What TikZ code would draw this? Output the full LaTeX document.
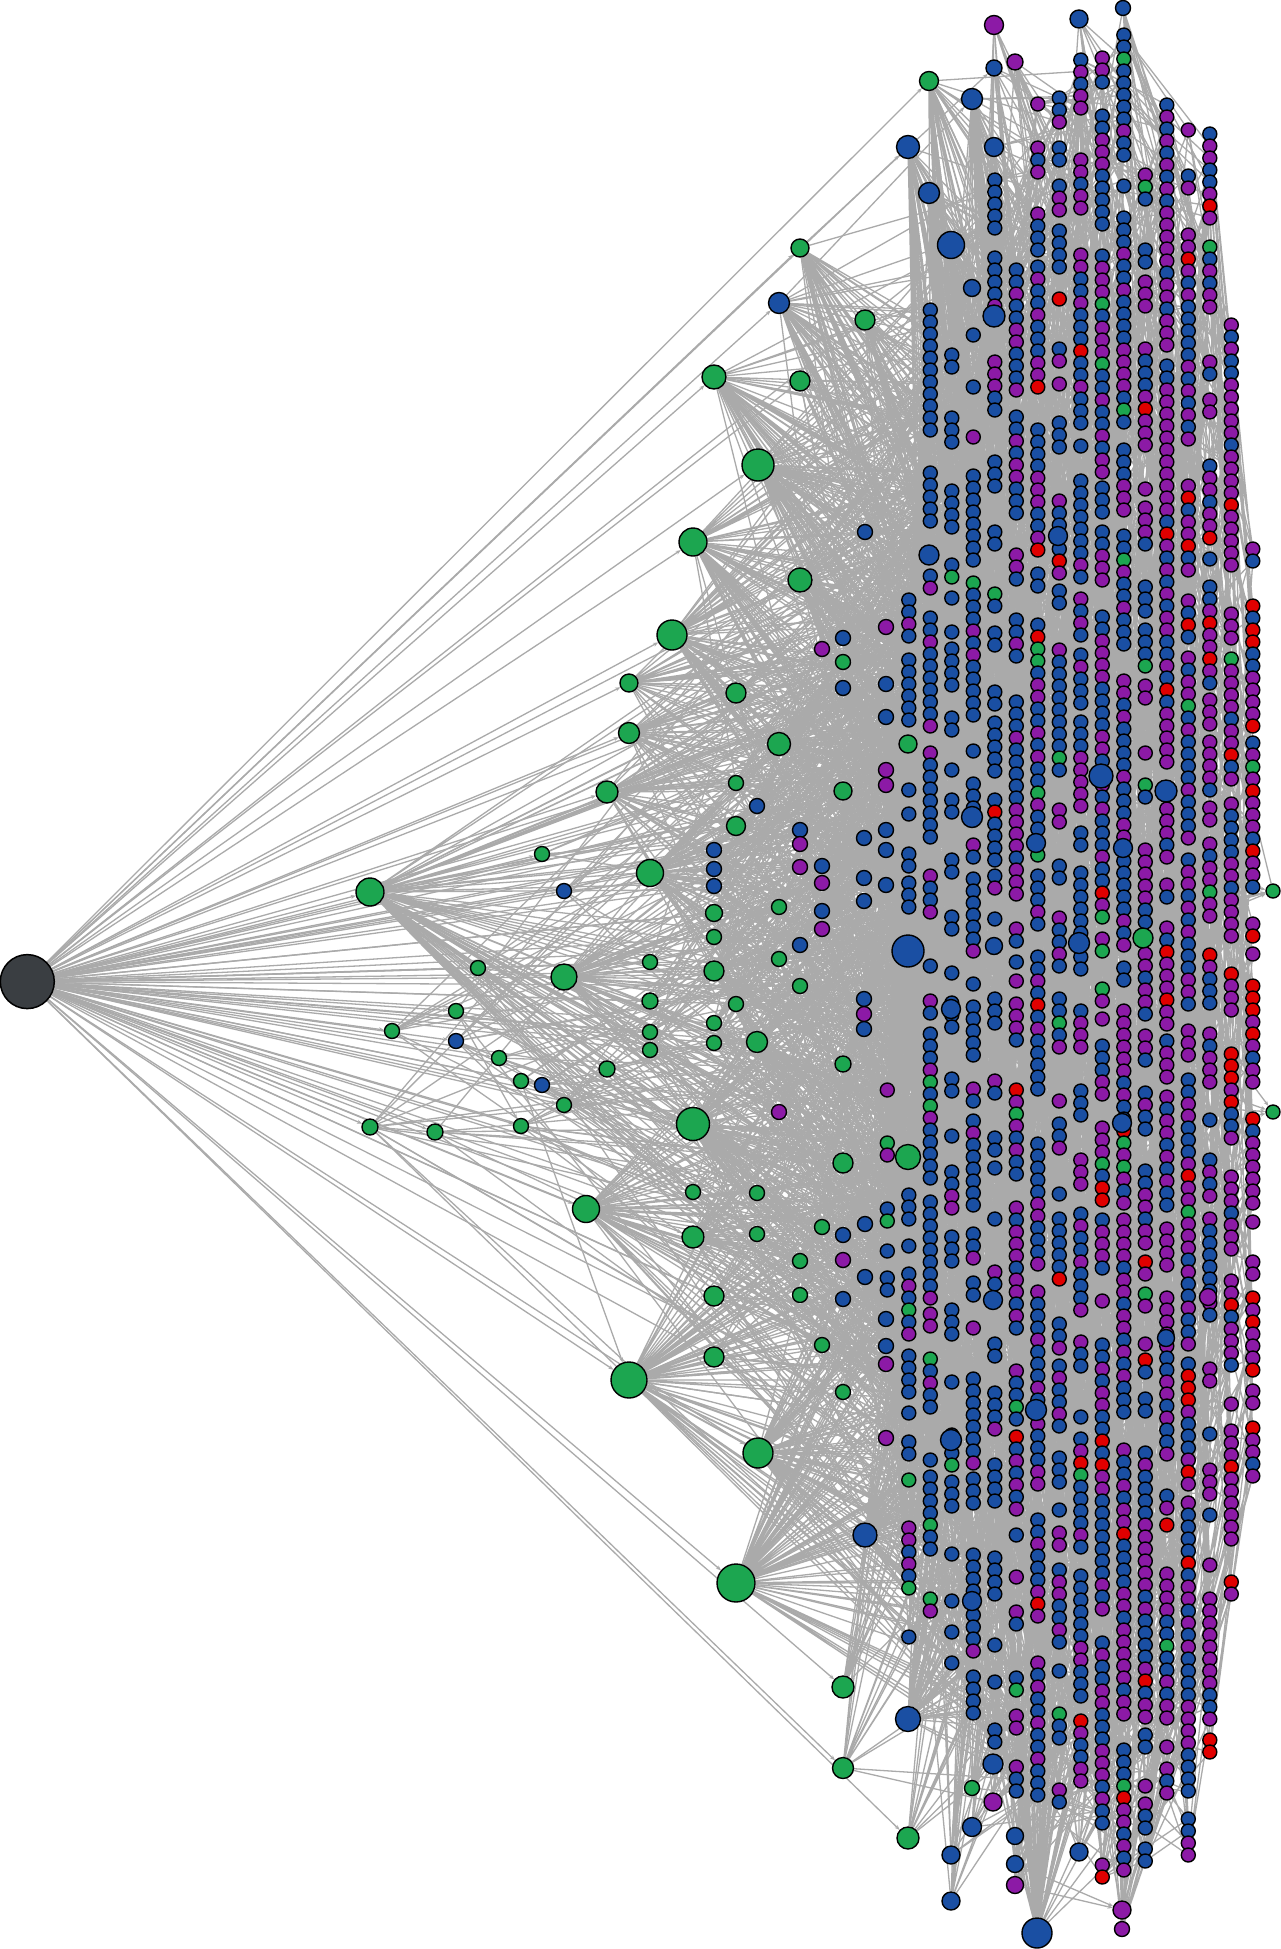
\documentclass[tikz,border=0pt]{standalone}
\usetikzlibrary{arrows.meta}
\definecolor{cG}{HTML}{1CA650}
\definecolor{cB}{HTML}{1A4FA3}
\definecolor{cP}{HTML}{8C1AA6}
\definecolor{cR}{HTML}{E00000}
\definecolor{cK}{HTML}{3A3E42}
\definecolor{edgec}{HTML}{AAAAAA}
\pgfdeclarelayer{bg}
\pgfsetlayers{bg,main}
\tikzset{
  nd/.style={circle, draw=black, line width=1.4pt, inner sep=0pt, minimum size=14pt},
  edge/.style={draw=edgec, line width=1.3pt, -{Stealth[length=5pt,width=4pt]}},
  edgeplain/.style={draw=edgec, line width=1.3pt},
}
\newcount\nn
\newdimen\sxd
\newdimen\syd
\makeatletter
% #1 column k, #2 y0, #3 y1, #4 blue%, #5 blue+purple%, #6 +green%, #7 gap%, #8 max gap
\def\mkcol#1#2#3#4#5#6#7#8{%
  \@ifundefined{nc#1}{\global\nn=0 \expandafter\xdef\csname ya#1\endcsname{#2}}{\global\nn=\csname nc#1\endcsname\relax}%
  \expandafter\xdef\csname yb#1\endcsname{#3}%
  \pgfmathsetmacro\colx{27.3+21.5*#1}%
  \def\coly{#2}%
  \loop
    \global\advance\nn by 1
    \pgfmathrandominteger{\rc}{1}{100}%
    \ifnum\rc>#6 \def\ccol{cR}\else\ifnum\rc>#5 \def\ccol{cG}\else\ifnum\rc>#4 \def\ccol{cP}\else\def\ccol{cB}\fi\fi\fi
    \edef\cnm{c#1-\the\nn}%
    \node[nd,fill=\ccol] (\cnm) at (\colx,\coly) {};
    \pgfmathrandominteger{\rg}{1}{100}%
    \ifnum\rg>#7 \pgfmathsetmacro\coly{\coly+12}\else\pgfmathrandominteger{\rgap}{16}{#8}\pgfmathsetmacro\coly{\coly+\rgap}\fi
  \ifdim\coly pt<#3pt\repeat
  \expandafter\xdef\csname nc#1\endcsname{\the\nn}%
}
% incoming edges of column #1, #2 = percentage (plus one) taken from explicit nodes, #3 = edges per node
\def\coledges#1#2#3{%
  \gdef\edgelist{}%
  \edef\nk{\csname nc#1\endcsname}%
  \foreach \i in {1,...,\nk}{%
    \foreach \rep in {1,...,#3}{%
      \pgfmathrandominteger{\rr}{1}{100}%
      \ifnum\rr<#2 \pgfmathrandominteger{\ee}{1}{161}\xdef\edgelist{\edgelist (e\ee) -- (c#1-\i) }%
      \else
        \pgfmathtruncatemacro\maxdk{min(5,#1-40)}%
        \pgfmathrandominteger{\dk}{1}{\maxdk}%
        \pgfmathtruncatemacro\sk{#1-\dk}%
        \edef\ns{\csname nc\sk\endcsname}%
        \pgfmathrandominteger{\rl}{1}{100}%
        \ifnum\rl<56
          \pgfmathtruncatemacro\jc{round(\i/\nk*\ns)}%
          \pgfmathrandominteger{\off}{-14}{14}%
          \pgfmathtruncatemacro\sj{max(1,min(\ns,\jc+\off))}%
        \else
          \pgfmathrandominteger{\sj}{1}{\ns}%
        \fi
        \xdef\edgelist{\edgelist (c\sk-\sj) -- (c#1-\i) }%
      \fi
    }%
  }%
  \edef\tmpdraw{\noexpand\draw[edgeplain] \edgelist;}\tmpdraw
}
% fan of edges from node #1: #2 edges, target y in [#3,#4], columns #5..#6
\def\fan#1#2#3#4#5#6{%
  \gdef\edgelist{}%
  \foreach \q in {1,...,#2}{%
    \pgfmathrandominteger{\fk}{#5}{#6}%
    \edef\fn{\csname nc\fk\endcsname}%
    \edef\fya{\csname ya\fk\endcsname}%
    \edef\fyb{\csname yb\fk\endcsname}%
    \pgfmathtruncatemacro\jlo{max(1,min(\fn,int((#3-\fya)/(\fyb-\fya)*\fn)))}%
    \pgfmathtruncatemacro\jhi{max(\jlo,min(\fn,int((#4-\fya)/(\fyb-\fya)*\fn)+1))}%
    \pgfmathrandominteger{\fj}{\jlo}{\jhi}%
    \xdef\edgelist{\edgelist (#1) -- (c\fk-\fj) }%
  }%
  \edef\tmpdraw{\noexpand\draw[edgeplain] \edgelist;}\tmpdraw
}
\makeatother
\def\elist{e1/370/892/28/cG,e2/542/854/15/cG,e3/564/891/15/cB,e4/650/873/27/cG,e5/478/968/15/cG,e6/564/977/26/cG,e7/650/962/15/cG,e8/456/1011/15/cG,e9/650/1001/16/cG,e10/392/1031/15/cG,e11/456/1041/15/cB,e12/650/1032/15/cG,e13/650/1050/15/cG,e14/499/1058/15/cG,e15/607/1069/16/cG,e16/521/1081/15/cG,e17/542/1085/15/cB,e18/564/1105/15/cG,e19/370/1127/16/cG,e20/435/1132/16/cG,e21/521/1126/15/cG,e22/693/1124/33/cG,e23/672/635/30/cG,e24/629/683/18/cG,e25/736/693/20/cG,e26/629/733/21/cG,e27/779/744/23/cG,e28/607/792/22/cG,e29/736/783/15/cG,e30/757/806/15/cB,e31/736/826/19/cG,e32/714/850/15/cB,e33/714/869/15/cB,e34/714/886/15/cB,e35/714/913/17/cG,e36/714/937/15/cG,e37/714/971/20/cG,e38/736/1004/15/cG,e39/714/1023/15/cG,e40/714/1043/15/cG,e41/757/1042/21/cG,e42/779/907/15/cG,e43/779/959/15/cG,e44/800/986/15/cG,e45/800/945/15/cB,e46/843/662/15/cG,e47/843/638/15/cB,e48/822/649/15/cP,e49/843/688/15/cB,e50/843/791/18/cG,e51/800/830/15/cB,e52/800/844/15/cP,e53/800/867/15/cP,e54/822/866/15/cB,e55/822/883/15/cP,e56/822/911/15/cB,e57/822/929/15/cP,e58/864/838/15/cB,e59/864/878/15/cB,e60/864/901/15/cB,e61/886/830/15/cB,e62/886/850/15/cB,e63/886/885/15/cB,e64/886/627/15/cP,e65/886/684/15/cB,e66/886/717/15/cB,e67/886/770/15/cP,e68/886/785/15/cP,e69/908/951/32/cB,e70/843/1064/16/cG,e71/864/999/15/cB,e72/864/1014/15/cP,e73/864/1029/15/cB,e74/908/744/18/cG,e75/586/1209/27/cG,e76/693/1192/15/cG,e77/757/1193/15/cG,e78/693/1237/22/cG,e79/757/1234/15/cG,e80/843/1163/20/cG,e81/908/1157/25/cG,e82/779/1112/15/cP,e83/822/1227/15/cG,e84/843/1235/15/cB,e85/865/1224/15/cB,e86/843/1260/15/cP,e87/865/1277/15/cB,e88/714/1296/20/cG,e89/800/1261/15/cG,e90/800/1295/15/cG,e91/843/1299/15/cB,e92/629/1380/36/cG,e93/714/1357/20/cG,e94/822/1345/15/cG,e95/886/1319/15/cB,e96/886/1346/15/cB,e97/886/1364/15/cP,e98/886/1438/15/cP,e99/843/1392/15/cG,e100/758/1453/30/cG,e101/736/1583/38/cG,e102/865/1535/24/cB,e103/843/1687/22/cG,e104/843/1768/21/cG,e105/908/1719/25/cB,e106/908/1838/22/cG,e107/951/1855/18/cB,e108/951/1901/18/cB,e109/1037/1933/30/cB,e110/1122/1910/18/cP,e111/1122/1929/15/cP,e112/993/1764/20/cB,e113/972/1827/19/cB,e114/993/1802/18/cP,e115/972/1788/15/cG,e116/1015/1836/17/cB,e117/1015/1864/17/cB,e118/1015/1885/17/cP,e119/1079/1852/18/cB,e120/929/81/19/cG,e121/908/147/23/cB,e122/929/193/21/cB,e123/972/99/21/cB,e124/994/25/19/cP,e125/994/68/16/cB,e126/1015/62/16/cP,e127/994/147/19/cB,e128/951/245/27/cB,e129/1079/19/18/cB,e130/1123/8/15/cB,e131/800/248/18/cG,e132/779/303/21/cB,e133/865/320/20/cG,e134/714/377/24/cG,e135/800/381/20/cG,e136/758/465/32/cG,e137/693/542/28/cG,e138/800/580/24/cG,e139/865/532/15/cB,e140/929/555/20/cB,e141/994/316/22/cB,e142/972/288/17/cB,e143/1058/536/19/cB,e144/1101/776/24/cB,e145/1166/791/22/cB,e146/972/817/21/cB,e147/1036/843/19/cB,e148/1123/848/19/cB,e149/1079/943/21/cB,e150/1143/938/20/cG,e151/951/1009/19/cB,e152/994/946/17/cB,e153/1273/891/14/cG,e154/1273/1112/14/cG,e155/993/1300/19/cB,e156/1036/1410/21/cB,e157/951/1440/21/cB,e158/1122/1123/19/cB,e159/1166/1338/17/cB,e160/1208/1297/17/cP,e161/972/1601/19/cB}
\begin{document}
\begin{tikzpicture}[x=1pt,y=-1pt]
\pgfmathsetseed{4242}
\useasboundingbox (0,0) rectangle (1281,1949);
% generated columns of nodes
\mkcol{40}{1090}{1300}{55}{85}{100}{60}{60}
\mkcol{41}{600}{732}{70}{88}{100}{10}{30}
\mkcol{41}{790}{935}{65}{88}{100}{60}{50}
\mkcol{41}{1195}{1455}{75}{92}{100}{10}{30}
\mkcol{41}{1480}{1640}{65}{90}{100}{50}{50}
\mkcol{42}{310}{1640}{80}{93}{100}{15}{55}
\mkcol{43}{355}{1665}{85}{95}{100}{35}{60}
\mkcol{44}{335}{1750}{82}{95}{100}{14}{55}
\mkcol{45}{180}{1750}{75}{94}{99}{38}{60}
\mkcol{46}{270}{1800}{45}{90}{95}{22}{55}
\mkcol{47}{104}{1806}{55}{93}{96}{15}{55}
\mkcol{48}{98}{1826}{65}{93}{96}{28}{55}
\mkcol{49}{60}{1790}{60}{93}{97}{15}{55}
\mkcol{50}{58}{1897}{45}{90}{95}{12}{50}
\mkcol{51}{35}{1880}{50}{92}{97}{7}{40}
\mkcol{52}{175}{1863}{40}{90}{95}{22}{55}
\mkcol{53}{105}{1823}{35}{90}{93}{12}{50}
\mkcol{54}{130}{1857}{45}{92}{95}{14}{50}
\mkcol{55}{134}{1767}{25}{88}{90}{22}{55}
\mkcol{56}{325}{1600}{20}{85}{87}{15}{50}
\mkcol{57}{549}{1490}{15}{75}{76}{14}{45}
% explicit nodes
\foreach \enm/\ex/\ey/\ed/\ec in \elist {
  \node[nd, fill=\ec, minimum size=\ed pt] (\enm) at (\ex,\ey) {};
}
\node[nd, fill=cK, minimum size=54pt, line width=1.5pt] (root) at (27.3,981.6) {};
\begin{pgfonlayer}{bg}
\fill[white] (0,0) rectangle (1281,1949);
% root edges
\foreach \enm/\ex/\ey/\ed/\ec in \elist {
  \ifdim \ex pt<801pt \draw[edge] (root) -- (\enm); \fi
}
\foreach \t in {e120,e106,e103,e104,e133,e121,e50,e46,e70,e80,e99,e83,e94}{\draw[edge] (root) -- (\t);}
% edges among explicit nodes
\foreach \enm/\ex/\ey/\ed/\ec in \elist {
  \ifdim \ex pt>450pt
    \foreach \rep in {1,...,5}{
      \pgfmathrandominteger{\src}{1}{161}
      \pgfextractx{\sxd}{\pgfpointanchor{e\src}{center}}
      \pgfextracty{\syd}{\pgfpointanchor{e\src}{center}}
      \pgfmathtruncatemacro\okk{and(\sxd<\ex-8, abs(-\syd-\ey)<300)}
      \ifnum\okk=1 \draw[edge] (e\src) -- (\enm); \fi
    }
  \fi
}
% general fans of every explicit node
\foreach \enm/\ex/\ey/\ed/\ec in \elist {
  \ifdim \ex pt<1150pt
    \pgfmathtruncatemacro\kx{round((\ex-27.3)/21.5)}
    \pgfmathtruncatemacro\kmn{max(41,\kx+1)}
    \pgfmathtruncatemacro\kmx{min(57,\kmn+5)}
    \pgfmathtruncatemacro\ylo{\ey-380}
    \pgfmathtruncatemacro\yhi{\ey+380}
    \pgfmathtruncatemacro\nf{(\ex<700 && \ed<17) ? 3 : 9}
    \fan{\enm}{\nf}{\ylo}{\yhi}{\kmn}{\kmx}
  \fi
}
% fans of hub nodes
\foreach \h/\cnt/\ylo/\yhi/\kmin/\kmax in {e1/60/500/1500/40/46,e4/40/600/1300/41/47,e6/40/700/1400/41/47,e22/55/800/1600/41/47,e23/50/300/1100/41/47,e26/30/400/1100/41/46,e27/35/400/1100/41/47,e28/30/500/1200/41/46,e75/45/900/1700/41/47,e92/60/900/1900/41/47,e100/55/1100/1900/41/47,e101/70/1100/1949/41/48,e134/40/100/900/42/47,e136/55/150/1000/42/48,e137/50/200/1100/42/47,e138/40/250/1100/42/48,e120/30/0/700/42/50,e121/45/50/1200/42/48,e122/40/100/1000/42/48,e123/40/50/1100/43/49,e128/45/200/1300/43/49,e109/70/800/1949/43/52,e105/40/1200/1949/42/49,e102/40/1100/1900/42/48,e81/35/900/1500/42/49,e69/40/600/1300/42/49,e131/30/200/800/42/47,e132/30/200/900/42/47,e133/25/250/900/42/48,e37/25/700/1200/41/46,e41/25/800/1300/41/46,e78/25/1000/1500/41/46,e24/20/400/1000/41/46}{
  \fan{\h}{\cnt}{\ylo}{\yhi}{\kmin}{\kmax}
}
% column edges
\coledges{40}{101}{2}
\coledges{41}{35}{3}
\coledges{42}{25}{3}
\coledges{43}{22}{3}
\coledges{44}{20}{3}
\coledges{45}{18}{3}
\coledges{46}{16}{3}
\coledges{47}{15}{3}
\coledges{48}{14}{3}
\coledges{49}{12}{3}
\coledges{50}{10}{3}
\coledges{51}{10}{3}
\coledges{52}{8}{3}
\coledges{53}{8}{3}
\coledges{54}{6}{3}
\coledges{55}{6}{3}
\coledges{56}{5}{3}
\coledges{57}{5}{3}
\end{pgfonlayer}
\end{tikzpicture}
\end{document}
